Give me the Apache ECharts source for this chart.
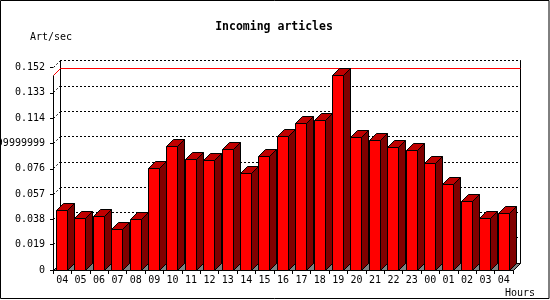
<!DOCTYPE html>
<html>
<head>
<meta charset="utf-8">
<script src="https://cdn.jsdelivr.net/npm/echarts@6/dist/echarts.min.js"></script>
<style>
html,body{margin:0;padding:0;background:#fff;}
#chart{width:550px;height:300px;}
</style>
</head>
<body>
<div id="chart"></div>
<script>
const categories = ['04','05','06','07','08','09','10','11','12','13','14','15','16','17','18','19','20','21','22','23','00','01','02','03','04'];
const values = [0.0448,0.0388,0.0403,0.0305,0.0380,0.0763,0.0930,0.0833,0.0825,0.0905,0.0725,0.0853,0.1001,0.1100,0.1123,0.1460,0.0995,0.0973,0.0917,0.0895,0.0800,0.0643,0.0515,0.0388,0.0425];
const tickValues = [0,0.019,0.038,0.057,0.076,0.095,0.114,0.133,0.152];
const tickLabels = ['0','0.019','0.038','0.057','0.076','0.09499999999999999','0.114','0.133','0.152'];
const titleText = 'Incoming articles';
const yName = 'Art/sec';
const xName = 'Hours';

const FONT = 'DejaVu Sans Mono';
const DEPTH = 7, FRONT_W = 11, OFFSET = 3.4;
const yMax = 0.152, yInterval = 0.019;
const maxVal = Math.max.apply(null, values);

const chart = echarts.init(document.getElementById('chart'), null, {renderer:'canvas'});

function snap(v){ return Math.round(v - 0.5) + 0.5; }

const option = {
  animation: false,
  backgroundColor: '#ffffff',
  textStyle: {fontFamily: FONT},
  grid: [
    {left: 53, right: 37, top: 67.5, bottom: 30, containLabel: false, outerBoundsMode: 'none'},
    {left: 60, right: 30, top: 60.5, bottom: 37, containLabel: false, outerBoundsMode: 'none'}
  ],
  xAxis: [
    {
      type: 'category', gridIndex: 0, data: categories, boundaryGap: true,
      axisLine: {show: true, lineStyle: {color: '#000', width: 1}},
      axisTick: {show: true, inside: false, length: 4, interval: 0, alignWithLabel: false, lineStyle: {color: '#000'}},
      axisLabel: {show: true, interval: 0, margin: 5, color: '#000', fontSize: 10, fontFamily: FONT},
      splitLine: {show: false}
    },
    {
      type: 'category', gridIndex: 1, data: categories, position: 'top', boundaryGap: true,
      axisLine: {show: true, lineStyle: {color: '#000', width: 1}},
      axisTick: {show: false}, axisLabel: {show: false}, splitLine: {show: false}
    }
  ],
  yAxis: [
    {
      type: 'value', gridIndex: 0, min: 0, max: yMax, interval: yInterval,
      axisLine: {show: false},
      axisTick: {show: true, inside: false, length: 3, lineStyle: {color: '#000'}},
      axisLabel: {show: true, margin: 8, color: '#000', fontSize: 10, fontFamily: FONT, hideOverlap: false,
        formatter: function(val, idx){ return tickLabels[idx] !== undefined ? tickLabels[idx] : String(val); }},
      splitLine: {show: false}
    },
    {
      type: 'value', gridIndex: 1, min: 0, max: yMax, interval: yInterval, position: 'left',
      axisLine: {show: true, lineStyle: {color: '#000', width: 1}},
      axisTick: {show: false}, axisLabel: {show: false},
      splitLine: {show: true, lineStyle: {color: '#000', width: 1, type: [2, 2]}}
    },
    {
      type: 'value', gridIndex: 1, min: 0, max: yMax, interval: yInterval, position: 'right',
      axisLine: {show: true, onZero: false, lineStyle: {color: '#000', width: 1}},
      axisTick: {show: false}, axisLabel: {show: false}, splitLine: {show: false}
    }
  ],
  graphic: [
    {type: 'rect', shape: {x: 0.5, y: 0.5, width: 548.5, height: 298}, style: {fill: 'none', stroke: '#000', lineWidth: 1}, z: 100},
    {type: 'text', x: 274, y: 27, style: {text: titleText, font: 'bold 11.5px "' + FONT + '"', fill: '#000', textAlign: 'center', textVerticalAlign: 'middle'}},
    {type: 'text', x: 30, y: 37, style: {text: yName, font: '10px "' + FONT + '"', fill: '#000', textAlign: 'left', textVerticalAlign: 'middle'}},
    {type: 'text', x: 505, y: 293, style: {text: xName, font: '10px "' + FONT + '"', fill: '#000', textAlign: 'left', textVerticalAlign: 'middle'}}
  ],
  series: [
    {
      type: 'custom', name: 'frame', xAxisIndex: 0, yAxisIndex: 0, z: 1, silent: true,
      data: [[0, 0]],
      renderItem: function(params, api){
        const bw = api.size([1, 0])[0];
        const c0 = api.coord([0, 0]);
        const left = snap(c0[0] - bw / 2);
        const right = snap(c0[0] - bw / 2 + bw * categories.length);
        const yb = snap(c0[1]);
        const ym = snap(api.coord([0, maxVal])[1]);
        const children = [];
        children.push({type: 'polygon', shape: {points: [[left, yb], [right, yb], [right + DEPTH, yb - DEPTH], [left + DEPTH, yb - DEPTH]]},
          style: {fill: '#808080', stroke: '#000', lineWidth: 1}});
        tickValues.forEach(function(t){
          if (t === 0) return;
          const yt = snap(api.coord([0, t])[1]);
          children.push({type: 'line', shape: {x1: left, y1: yt, x2: left + DEPTH, y2: yt - DEPTH},
            style: {stroke: '#000', lineWidth: 1, lineDash: [2, 2]}});
        });
        children.push({type: 'polyline', shape: {points: [[left, ym], [left + DEPTH, ym - DEPTH], [right + DEPTH, ym - DEPTH]]},
          style: {stroke: '#ff0000', lineWidth: 1, fill: 'none'}});
        children.push({type: 'line', shape: {x1: left, y1: yb, x2: left, y2: ym},
          style: {stroke: '#000', lineWidth: 1}});
        return {type: 'group', children: children};
      }
    },
    {
      type: 'custom', name: 'Art/sec', xAxisIndex: 0, yAxisIndex: 0, z: 3,
      data: values.map(function(v, i){ return [i, v]; }),
      encode: {x: 0, y: 1},
      renderItem: function(params, api){
        const idx = api.value(0), v = api.value(1);
        const base = api.coord([idx, 0]);
        const top = api.coord([idx, v]);
        const bw = api.size([1, 0])[0];
        const x0 = snap(base[0] - bw / 2 + OFFSET);
        const yb = snap(base[1]);
        const yt = snap(top[1]);
        const s = {stroke: '#000', lineWidth: 1};
        return {type: 'group', children: [
          {type: 'polygon', shape: {points: [[x0 + FRONT_W, yt], [x0 + FRONT_W + DEPTH, yt - DEPTH], [x0 + FRONT_W + DEPTH, yb - DEPTH], [x0 + FRONT_W, yb]]},
            style: Object.assign({fill: '#800000'}, s)},
          {type: 'polygon', shape: {points: [[x0, yt], [x0 + DEPTH, yt - DEPTH], [x0 + FRONT_W + DEPTH, yt - DEPTH], [x0 + FRONT_W, yt]]},
            style: Object.assign({fill: '#c00000'}, s)},
          {type: 'rect', shape: {x: x0, y: yt, width: FRONT_W, height: yb - yt},
            style: Object.assign({fill: '#ff0000'}, s)}
        ]};
      }
    }
  ]
};
chart.setOption(option);
</script>
</body>
</html>
